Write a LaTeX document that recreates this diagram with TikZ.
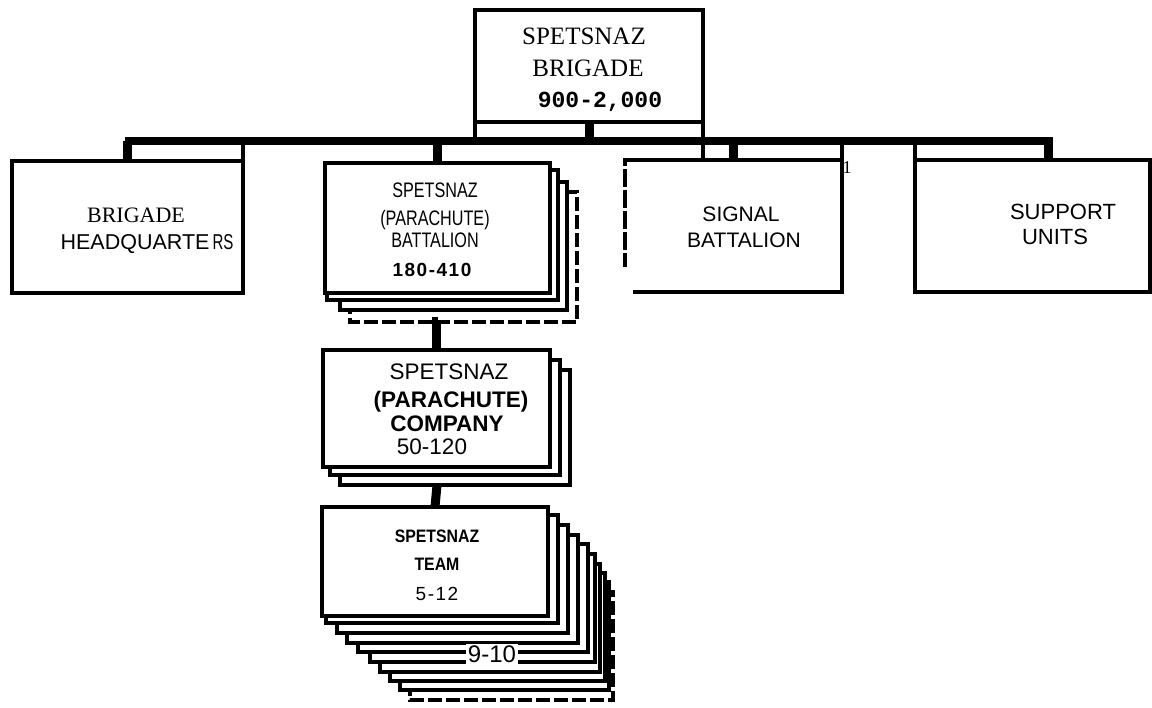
\documentclass[tikz,border=0pt]{standalone}
\usepackage{fontspec}
\usepackage{graphicx}
\setmainfont{Liberation Serif}
\newfontfamily\sansf{Liberation Sans}
\newfontfamily\sansls[LetterSpace=8]{Liberation Sans}
\newfontfamily\monof{Liberation Mono}
\usetikzlibrary{calc}
\tikzset{
  orgbox/.style={draw, line width=4.5pt, fill=white, inner sep=0pt, outer sep=0pt},
  backbox/.style={draw, line width=4pt, fill=white},
  dashbox/.style={backbox, dash pattern=on 14pt off 4pt},
  stub/.style={line width=9pt},
  busline/.style={line width=8pt},
  sideline/.style={line width=3.5pt},
  lbl/.style={anchor=base, inner sep=0pt},
}
\begin{document}
\begin{tikzpicture}[x=1pt,y=-1pt]
\useasboundingbox (0,0) rectangle (1152,708);

% ---- stacked backings: battalion
\draw[dashbox] (350,192) rectangle (577,322);
\draw[backbox] (340,182) rectangle (567,310);
\draw[backbox] (327,170) rectangle (558,300);
% ---- stacked backings: company
\draw[backbox] (340,370) rectangle (570,485);
\draw[backbox] (330,360) rectangle (560,475);
% ---- stacked backings: team
\draw[dashbox] (410,592) rectangle (613,700);
\foreach \l/\t/\r/\b in {400/582/609/690, 390/573/605/681, 380/564/600/672,
  370/554/595/662, 358/544/588/652, 347/535/578/643, 337/525/568/633, 326/515/558/623}
  \draw[backbox] (\l,\t) rectangle (\r,\b);

% ---- main boxes
\node[orgbox, minimum width=228pt, minimum height=112pt] (top) at (589,66) {};
\node[orgbox, minimum width=231pt, minimum height=132pt] (hq) at (127.5,227) {};
\node[orgbox, minimum width=225pt, minimum height=130pt] (bat) at (437.5,228) {};
\node[orgbox, minimum width=227pt, minimum height=117pt] (comp) at (436.5,408.5) {};
\node[orgbox, minimum width=226pt, minimum height=109pt] (team) at (435,561.5) {};
\node[inner sep=0pt, outer sep=0pt, minimum width=217pt, minimum height=132pt] (sig) at (733.5,226) {};
\node[orgbox, minimum width=235pt, minimum height=132pt] (sup) at (1032.5,226) {};

% signal box sides (left side broken)
\draw[line width=4.5pt] ($(sig.north west)+(8,0)$) -- (sig.north east) -- (sig.south east) -- ($(sig.south west)+(8,0)$);
\draw[line width=4pt, dash pattern=on 18pt off 3pt] ($(sig.north west)+(12,0)$) -- (sig.north west) -- ($(sig.south west)+(0,-25)$);

% ---- bus and connectors
\coordinate (busL) at (125,141);
\coordinate (busR) at (1053,141);
\coordinate (batbot) at (437,322);
\coordinate (compbot) at (437,485);
\draw[busline] (busL) -- (busR);
\draw[stub] (top.south) -- (top.south |- busL);
\draw[stub] (hq.north |- busL) -- (hq.north);
\draw[stub] (bat.north |- busL) -- (bat.north);
\draw[stub] (sig.north |- busL) -- (sig.north);
\draw[stub] ([xshift=15.5pt]sup.north |- busL) -- ([xshift=15.5pt]sup.north);
\draw[stub] (batbot) -- (comp.north |- batbot) -- (comp.north);
\draw[stub] (compbot) -- (team.north);

% extended side lines
\draw[sideline] (top.south east) -- ($(top.south east)+(0,38)$);
\draw[sideline] (top.south west) -- (top.south west |- busL);
\draw[sideline] (hq.north east) -- (hq.north east |- busL);
\draw[sideline] (sig.north east) -- (sig.north east |- busL);
\draw[sideline] (sup.north west) -- (sup.north west |- busL);

% ---- texts
\node[lbl, font=\fontsize{25}{30}\selectfont] (t1) at (584,45) {SPETSNAZ};
\node[lbl, font=\fontsize{25}{30}\selectfont] (t2) at (588,77) {BRIGADE};
\node[lbl, font=\monof\bfseries\fontsize{23}{28}\selectfont] (t3) at (600,108) {900-2,000};

\node[lbl, font=\fontsize{22}{26}\selectfont] (h1) at (136,223) {BRIGADE};
\node[lbl, font=\sansf\fontsize{21.5}{26}\selectfont] (h2) at (147,250) {HEADQUARTE\hspace{3pt}\scalebox{0.7}[1]{RS}};

\node[lbl, font=\sansf\fontsize{21}{26}\selectfont] (s1) at (741,222) {SIGNAL};
\node[lbl, font=\sansf\fontsize{21}{26}\selectfont] (s2) at (744,248) {BATTALION};
\node[lbl, font=\fontsize{18}{20}\selectfont] (one) at (847,174) {1};

\node[lbl, font=\sansf\fontsize{22}{26}\selectfont] (u1) at (1063,220) {SUPPORT};
\node[lbl, font=\sansf\fontsize{22}{26}\selectfont] (u2) at (1055,245) {UNITS};

\node[lbl, font=\sansf\fontsize{21}{26}\selectfont] (b1) at (435,198) {\scalebox{0.77}[1]{SPETSNAZ}};
\node[lbl, font=\sansf\fontsize{21}{26}\selectfont] (b2) at (435,226) {\scalebox{0.77}[1]{(PARACHUTE)}};
\node[lbl, font=\sansf\fontsize{21}{26}\selectfont] (b3) at (435,248) {\scalebox{0.77}[1]{BATTALION}};
\node[lbl, font=\sansls\bfseries\fontsize{19}{24}\selectfont] (b4) at (432,277) {180-410};

\node[lbl, font=\sansf\fontsize{22.5}{26}\selectfont] (c1) at (449,380) {SPETSNAZ};
\node[lbl, font=\sansf\bfseries\fontsize{22.5}{26}\selectfont] (c2) at (451,408) {(PARACHUTE)};
\node[lbl, font=\sansf\bfseries\fontsize{22.5}{26}\selectfont] (c3) at (447,432) {COMPANY};
\node[lbl, font=\sansf\fontsize{22.5}{26}\selectfont] (c4) at (432,455) {50-120};

\node[lbl, font=\sansf\bfseries\fontsize{18}{22}\selectfont] (m1) at (437,543) {\scalebox{0.88}[1]{SPETSNAZ}};
\node[lbl, font=\sansf\bfseries\fontsize{18}{22}\selectfont] (m2) at (437,570) {\scalebox{0.88}[1]{TEAM}};
\node[lbl, font=\sansls\fontsize{19}{24}\selectfont] (m3) at (437,600) {5-12};

\node[fill=white, inner sep=2pt, font=\sansf\fontsize{24}{28}\selectfont] (nine) at (492,654) {9-10};
\end{tikzpicture}
\end{document}
